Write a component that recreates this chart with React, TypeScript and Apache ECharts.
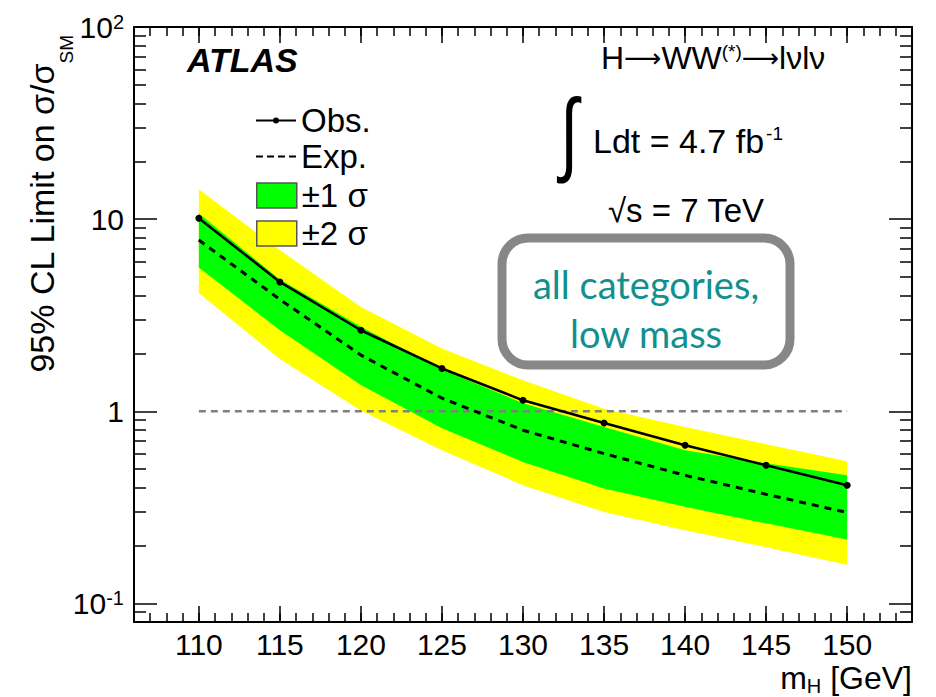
import React, { useEffect, useRef } from 'react';
import * as echarts from 'echarts';

// ---- data ----
const masses = [110, 115, 120, 125, 130, 135, 140, 145, 150];
const observed = [10.1, 4.71, 2.64, 1.67, 1.14, 0.869, 0.665, 0.523, 0.412];
const expected = [7.78, 3.82, 1.96, 1.17, 0.797, 0.602, 0.464, 0.37, 0.297];
const sigma1Up = [10.7, 4.85, 2.75, 1.65, 1.1, 0.828, 0.627, 0.536, 0.464];
const sigma1Down = [5.6, 2.64, 1.37, 0.815, 0.545, 0.396, 0.318, 0.261, 0.215];
const sigma2Up = [14.3, 6.9, 3.49, 2.12, 1.45, 1.03, 0.828, 0.673, 0.549];
const sigma2Down = [4.13, 1.87, 1.01, 0.627, 0.412, 0.299, 0.24, 0.196, 0.159];
const smRange = [110, 150];
const smLevel = [1, 1];

// ---- axis tick values ----
const xMajorTicks = [110, 115, 120, 125, 130, 135, 140, 145, 150];
const yMajorTicks = [0.1, 1, 10, 100];
const yMinorTicks = [
  0.08, 0.09, 0.2, 0.3, 0.4, 0.5, 0.6, 0.7, 0.8, 0.9,
  2, 3, 4, 5, 6, 7, 8, 9, 20, 30, 40, 50, 60, 70, 80, 90,
];

const FONT = '"Liberation Sans", Arial, Helvetica, sans-serif';
const BLACK = '#000';

const powLabel = (v: number) => {
  const e = Math.round(Math.log10(v));
  if (e === 0) return '1';
  if (e === 1) return '10';
  return `10{sup|${e}}`;
};

const bandSeries = (name: string, upper: number[], lower: number[], color: string, z: number) => ({
  type: 'custom',
  name,
  coordinateSystem: 'cartesian2d',
  xAxisIndex: 0,
  yAxisIndex: 0,
  z,
  silent: true,
  itemStyle: { color },
  encode: { x: 0, y: 1 },
  data: masses.map((m, i) => [m, upper[i], lower[i]]),
  renderItem: (params: any, api: any) => {
    if (params.dataIndex !== 0) return null;
    const top = masses.map((m, i) => api.coord([m, upper[i]]));
    const bottom = masses.map((m, i) => api.coord([m, lower[i]])).reverse();
    return {
      type: 'polygon',
      shape: { points: top.concat(bottom) },
      style: { fill: color, stroke: 'none' },
    };
  },
});

const tickLine = { color: BLACK, width: 1.5 };
const frameLine = { show: true, onZero: false, lineStyle: { color: BLACK, width: 2 } };

const xBase = {
  type: 'value',
  min: 106,
  max: 154,
  splitLine: { show: false },
  axisLine: frameLine,
};

const yBase = {
  type: 'log',
  logBase: 10,
  min: 0.08,
  max: 100,
  splitLine: { show: false },
  axisLine: frameLine,
};

const arrowStyle = { fontFamily: '"DejaVu Sans", sans-serif', fontSize: 26, fill: BLACK };

const option: any = {
  animation: false,
  backgroundColor: '#fff',
  textStyle: { fontFamily: FONT },
  grid: { left: 134, top: 27, right: 24, bottom: 75, containLabel: false, outerBoundsMode: 'none' },
  xAxis: [
    {
      ...xBase,
      position: 'bottom',
      interval: 1,
      axisTick: { show: true, inside: true, length: 9, lineStyle: tickLine },
      axisLabel: { show: false },
    },
    {
      ...xBase,
      position: 'bottom',
      axisLine: { show: false },
      axisTick: { show: true, inside: true, length: 16, customValues: xMajorTicks, lineStyle: tickLine },
      axisLabel: { show: true, customValues: xMajorTicks, fontSize: 30, color: BLACK, fontFamily: FONT, margin: 7 },
    },
    {
      ...xBase,
      position: 'top',
      interval: 1,
      axisTick: { show: true, inside: true, length: 9, lineStyle: tickLine },
      axisLabel: { show: false },
    },
    {
      ...xBase,
      position: 'top',
      axisLine: { show: false },
      axisTick: { show: true, inside: true, length: 16, customValues: xMajorTicks, lineStyle: tickLine },
      axisLabel: { show: false },
    },
  ],
  yAxis: [
    {
      ...yBase,
      position: 'left',
      axisTick: { show: true, inside: true, length: 23, customValues: yMajorTicks, lineStyle: tickLine },
      axisLabel: {
        show: true,
        customValues: yMajorTicks,
        fontSize: 30,
        color: BLACK,
        fontFamily: FONT,
        margin: 10,
        formatter: (v: number) => powLabel(v),
        rich: { sup: { fontSize: 20, color: BLACK, fontFamily: FONT, verticalAlign: 'top' } },
      },
      name: '95% CL Limit on σ/σ{sub|SM}',
      nameLocation: 'end',
      nameRotate: 90,
      nameGap: -8,
      nameMoveOverlap: false,
      nameTextStyle: {
        fontSize: 34,
        fontFamily: FONT,
        color: BLACK,
        align: 'right',
        verticalAlign: 'middle',
        padding: [0, 0, 184, 0],
        rich: { sub: { fontSize: 19, fontFamily: FONT, color: BLACK, verticalAlign: 'bottom', lineHeight: 67 } },
      },
    },
    {
      ...yBase,
      position: 'left',
      axisLine: { show: false },
      axisTick: { show: true, inside: true, length: 12, customValues: yMinorTicks, lineStyle: tickLine },
      axisLabel: { show: false },
    },
    {
      ...yBase,
      position: 'right',
      axisTick: { show: true, inside: true, length: 23, customValues: yMajorTicks, lineStyle: tickLine },
      axisLabel: { show: false },
    },
    {
      ...yBase,
      position: 'right',
      axisLine: { show: false },
      axisTick: { show: true, inside: true, length: 12, customValues: yMinorTicks, lineStyle: tickLine },
      axisLabel: { show: false },
    },
  ],
  legend: [
    {
      orient: 'vertical',
      left: 256,
      top: 104,
      padding: 0,
      itemWidth: 40,
      itemHeight: 8,
      itemGap: 3,
      selectedMode: false,
      symbolKeepAspect: true,
      textStyle: { fontSize: 33, fontFamily: FONT, color: BLACK },
      data: [
        {
          name: 'Obs.',
          icon: 'path://M0,3H40V5H0Z M23,4A3,3 0 1,1 17,4A3,3 0 1,1 23,4Z',
          itemStyle: { color: BLACK, borderWidth: 0 },
        },
        {
          name: 'Exp.',
          icon: 'path://M0,0H7V2H0Z M11,0H18V2H11Z M22,0H29V2H22Z M33,0H40V2H33Z',
          itemStyle: { color: BLACK, borderWidth: 0 },
        },
      ],
    },
    {
      orient: 'vertical',
      left: 256,
      top: 179,
      padding: 0,
      itemWidth: 40,
      itemHeight: 25,
      itemGap: 5,
      selectedMode: false,
      textStyle: { fontSize: 33, fontFamily: FONT, color: BLACK },
      data: [
        { name: '±1 σ', icon: 'rect', itemStyle: { color: '#00ff00', borderColor: '#555', borderWidth: 1.5 } },
        { name: '±2 σ', icon: 'rect', itemStyle: { color: '#ffff00', borderColor: '#555', borderWidth: 1.5 } },
      ],
    },
  ],
  graphic: [
    {
      type: 'text',
      x: 187,
      y: 60,
      style: {
        text: 'ATLAS',
        fontSize: 34,
        fontWeight: 'bold',
        fontStyle: 'italic',
        fontFamily: FONT,
        fill: BLACK,
        align: 'left',
        verticalAlign: 'middle',
      },
    },
    {
      type: 'text',
      x: 601,
      y: 58,
      style: {
        text: 'H{arr|⟶}WW{sup|(*)}{arr|⟶}lνlν',
        fontSize: 32,
        fontFamily: FONT,
        fill: BLACK,
        align: 'left',
        verticalAlign: 'middle',
        rich: {
          arr: arrowStyle,
          sup: { fontSize: 19, fontFamily: FONT, fill: BLACK, verticalAlign: 'top', padding: [0, 0, 14, 0] },
        },
      },
    },
    {
      type: 'text',
      x: 569,
      y: 132,
      scaleY: 1.4,
      style: {
        text: '∫',
        fontSize: 66,
        fontFamily: FONT,
        fill: BLACK,
        align: 'center',
        verticalAlign: 'middle',
      },
    },
    {
      type: 'text',
      x: 593,
      y: 141,
      style: {
        text: 'Ldt = 4.7 fb{sup|-1}',
        fontSize: 34,
        fontFamily: FONT,
        fill: BLACK,
        align: 'left',
        verticalAlign: 'middle',
        rich: { sup: { fontSize: 19, fontFamily: FONT, fill: BLACK, verticalAlign: 'top', padding: [0, 0, 14, 2] } },
      },
    },
    {
      type: 'text',
      x: 608,
      y: 210,
      style: {
        text: '√s = 7 TeV',
        fontSize: 33,
        fontFamily: FONT,
        fill: BLACK,
        align: 'left',
        verticalAlign: 'middle',
      },
    },
    {
      type: 'text',
      x: 912,
      y: 696,
      style: {
        text: 'm{sub|H} [GeV]',
        fontSize: 32,
        fontFamily: FONT,
        fill: BLACK,
        align: 'right',
        verticalAlign: 'bottom',
        rich: { sub: { fontSize: 20, fontFamily: FONT, fill: BLACK, verticalAlign: 'bottom', lineHeight: 36 } },
      },
    },
    {
      type: 'rect',
      shape: { x: 502, y: 238, width: 288, height: 127, r: 26 },
      style: { fill: '#fff', stroke: '#878787', lineWidth: 9 },
      z: 10,
    },
    {
      type: 'text',
      x: 646,
      y: 284,
      z: 11,
      style: {
        text: 'all categories,',
        fontSize: 38,
        fontFamily: 'Lato, "Open Sans", sans-serif',
        fill: '#11908f',
        align: 'center',
        verticalAlign: 'middle',
      },
    },
    {
      type: 'text',
      x: 646,
      y: 333,
      z: 11,
      style: {
        text: 'low mass',
        fontSize: 38,
        fontFamily: 'Lato, "Open Sans", sans-serif',
        fill: '#11908f',
        align: 'center',
        verticalAlign: 'middle',
      },
    },
  ],
  series: [
    bandSeries('±2 σ', sigma2Up, sigma2Down, '#ffff00', 1),
    bandSeries('±1 σ', sigma1Up, sigma1Down, '#00ff00', 2),
    {
      type: 'line',
      name: 'SM',
      z: 3,
      silent: true,
      symbol: 'none',
      color: '#808080',
      lineStyle: { color: '#808080', width: 2.5, type: [7, 5] },
      data: smRange.map((m, i) => [m, smLevel[i]]),
    },
    {
      type: 'line',
      name: 'Exp.',
      z: 4,
      silent: true,
      symbol: 'none',
      color: BLACK,
      lineStyle: { color: BLACK, width: 3, type: [7, 6] },
      data: masses.map((m, i) => [m, expected[i]]),
    },
    {
      type: 'line',
      name: 'Obs.',
      z: 5,
      silent: true,
      symbol: 'circle',
      symbolSize: 7,
      color: BLACK,
      itemStyle: { color: BLACK },
      lineStyle: { color: BLACK, width: 2.5 },
      data: masses.map((m, i) => [m, observed[i]]),
    },
  ],
};

export default function App() {
  const ref = useRef<HTMLDivElement>(null);
  useEffect(() => {
    document.body.style.margin = '0';
    const chart = echarts.init(ref.current as HTMLDivElement, null, { renderer: 'svg' });
    chart.setOption(option);
    return () => chart.dispose();
  }, []);
  return <div ref={ref} style={{ width: 936, height: 697 }} />;
}
